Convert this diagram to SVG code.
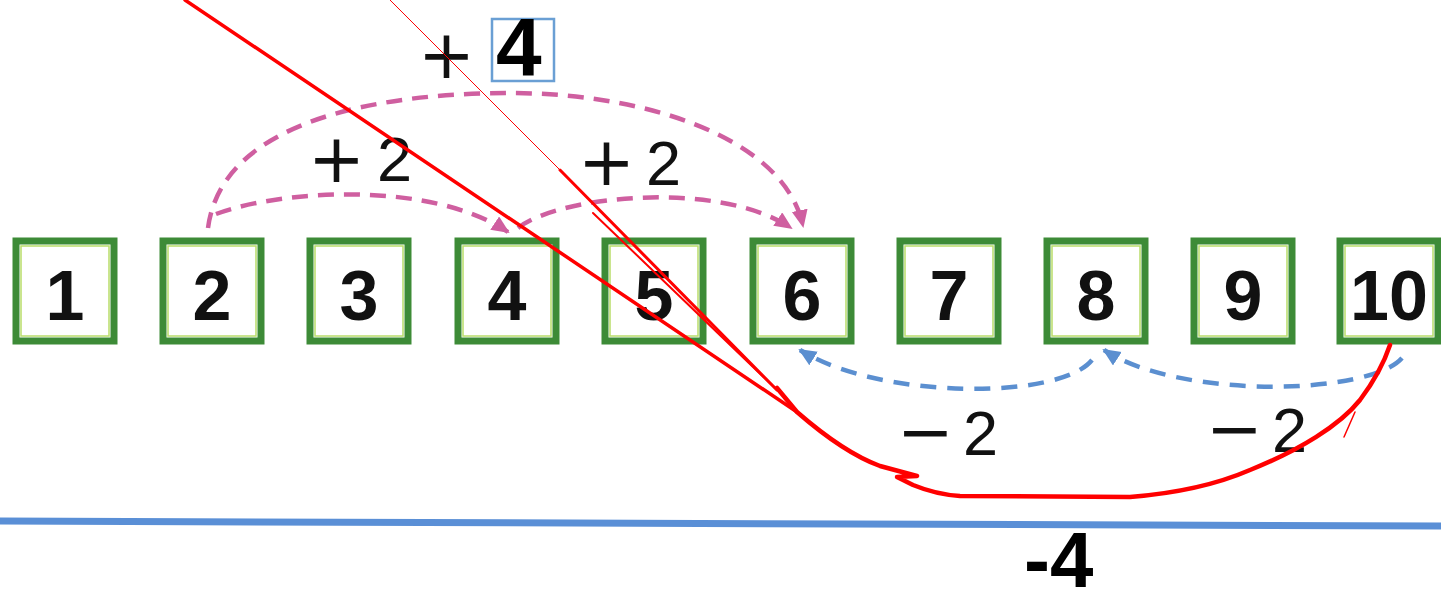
<svg xmlns="http://www.w3.org/2000/svg" width="1441" height="605" viewBox="0 0 1441 605">
<defs>
<style>
.box{fill:#fff;stroke:#3d8b37;stroke-width:7}
.inner{fill:none;stroke:#b9dd6a;stroke-width:1.5}
.num{font-family:"Liberation Sans",Arial,sans-serif;font-weight:bold;font-size:70px;fill:#111;text-anchor:middle}
.lbl{font-family:"Liberation Sans",Arial,sans-serif;font-size:63px;fill:#111}
.sym{font-family:"DejaVu Sans",sans-serif;font-size:68px;fill:#111}
.pink{fill:none;stroke:#cf5fa0;stroke-width:4.5;stroke-dasharray:16 10}
.blue{fill:none;stroke:#5b8fd0;stroke-width:4.5;stroke-dasharray:16 11}
.red{fill:none;stroke:#f00;stroke-linecap:round;stroke-linejoin:round}
</style>
<marker id="ap" markerUnits="userSpaceOnUse" markerWidth="20" markerHeight="18" refX="16" refY="8" orient="auto"><path d="M0,0 L18,8 L0,16 z" fill="#cf5fa0"/></marker>
<marker id="ab" markerUnits="userSpaceOnUse" markerWidth="20" markerHeight="18" refX="16" refY="8" orient="auto"><path d="M0,0 L18,8 L0,16 z" fill="#5b8fd0"/></marker>
</defs>
<rect width="1441" height="605" fill="#fff"/>
<line x1="0" y1="521" x2="1441" y2="526" stroke="#5a8fd6" stroke-width="7"/>
<g id="n1"><rect class="box" x="16" y="241" width="98" height="100"/><rect class="inner" x="21" y="246" width="88" height="90"/><text class="num" x="65" y="320">1</text></g>
<g id="n2"><rect class="box" x="163" y="241" width="98" height="100"/><rect class="inner" x="168" y="246" width="88" height="90"/><text class="num" x="212" y="320">2</text></g>
<g id="n3"><rect class="box" x="310" y="241" width="98" height="100"/><rect class="inner" x="315" y="246" width="88" height="90"/><text class="num" x="359" y="320">3</text></g>
<g id="n4"><rect class="box" x="458" y="241" width="98" height="100"/><rect class="inner" x="463" y="246" width="88" height="90"/><text class="num" x="507" y="320">4</text></g>
<g id="n5"><rect class="box" x="605" y="241" width="98" height="100"/><rect class="inner" x="610" y="246" width="88" height="90"/><text class="num" x="654" y="320">5</text></g>
<g id="n6"><rect class="box" x="753" y="241" width="98" height="100"/><rect class="inner" x="758" y="246" width="88" height="90"/><text class="num" x="802" y="320">6</text></g>
<g id="n7"><rect class="box" x="900" y="241" width="98" height="100"/><rect class="inner" x="905" y="246" width="88" height="90"/><text class="num" x="949" y="320">7</text></g>
<g id="n8"><rect class="box" x="1047" y="241" width="98" height="100"/><rect class="inner" x="1052" y="246" width="88" height="90"/><text class="num" x="1096" y="320">8</text></g>
<g id="n9"><rect class="box" x="1194" y="241" width="98" height="100"/><rect class="inner" x="1199" y="246" width="88" height="90"/><text class="num" x="1243" y="320">9</text></g>
<g id="n10"><rect class="box" x="1340" y="241" width="98" height="100"/><rect class="inner" x="1345" y="246" width="88" height="90"/><text class="num" x="1389" y="320">10</text></g>
<g id="connectors">
<path class="pink" d="M208,228 C222,120 380,93 510,93 C650,93 785,140 803,226" marker-end="url(#ap)"/>
<path class="pink" d="M216,214 C280,190 430,180 508,232" marker-end="url(#ap)"/>
<path class="pink" d="M518,228 C560,195 720,180 791,228" marker-end="url(#ap)"/>
<path class="blue" d="M1092,360 C1060,400 880,400 800,350" marker-end="url(#ab)"/>
<path class="blue" d="M1402,358 C1370,395 1180,400 1104,350" marker-end="url(#ab)"/>
</g>
<g id="labels">
<text class="sym" x="308" y="182">+</text><text class="lbl" x="377" y="181">2</text>
<text class="sym" x="578" y="185">+</text><text class="lbl" x="646" y="185">2</text>
<text class="sym" x="418" y="78">+</text>
<rect x="492" y="19" width="62" height="62" fill="none" stroke="#6a9fd4" stroke-width="2.5"/>
<text x="496" y="75" font-family="Liberation Sans,Arial,sans-serif" font-weight="bold" font-size="82" fill="#000">4</text>
<text class="sym" x="897" y="455">−</text><text class="lbl" x="963" y="455">2</text>
<text class="sym" x="1206" y="452">−</text><text class="lbl" x="1272" y="452">2</text>
<text x="1024" y="587" font-family="Liberation Sans,Arial,sans-serif" font-weight="bold" font-size="78" fill="#000">-4</text>
</g>
<g id="red">
<path class="red" stroke-width="3.5" d="M185,0 L797,412"/>
<path class="red" stroke-width="1" d="M390,0 L560,170"/>
<path class="red" stroke-width="3" d="M560,170 L777,390"/>
<path class="red" stroke-width="2" d="M593,213 L777,390"/>
<path class="red" stroke-width="4.5" d="M777,388 L797,412 C820,432 850,455 880,466 L917,476 L897,477 L913,485 C930,492 945,495 960,496 L1130,497 C1180,493 1220,483 1250,470 C1300,450 1340,425 1360,400 C1375,380 1385,360 1390,345"/>
<path class="red" stroke-width="1.5" d="M1355,412 L1344,437"/>
</g>
</svg>
